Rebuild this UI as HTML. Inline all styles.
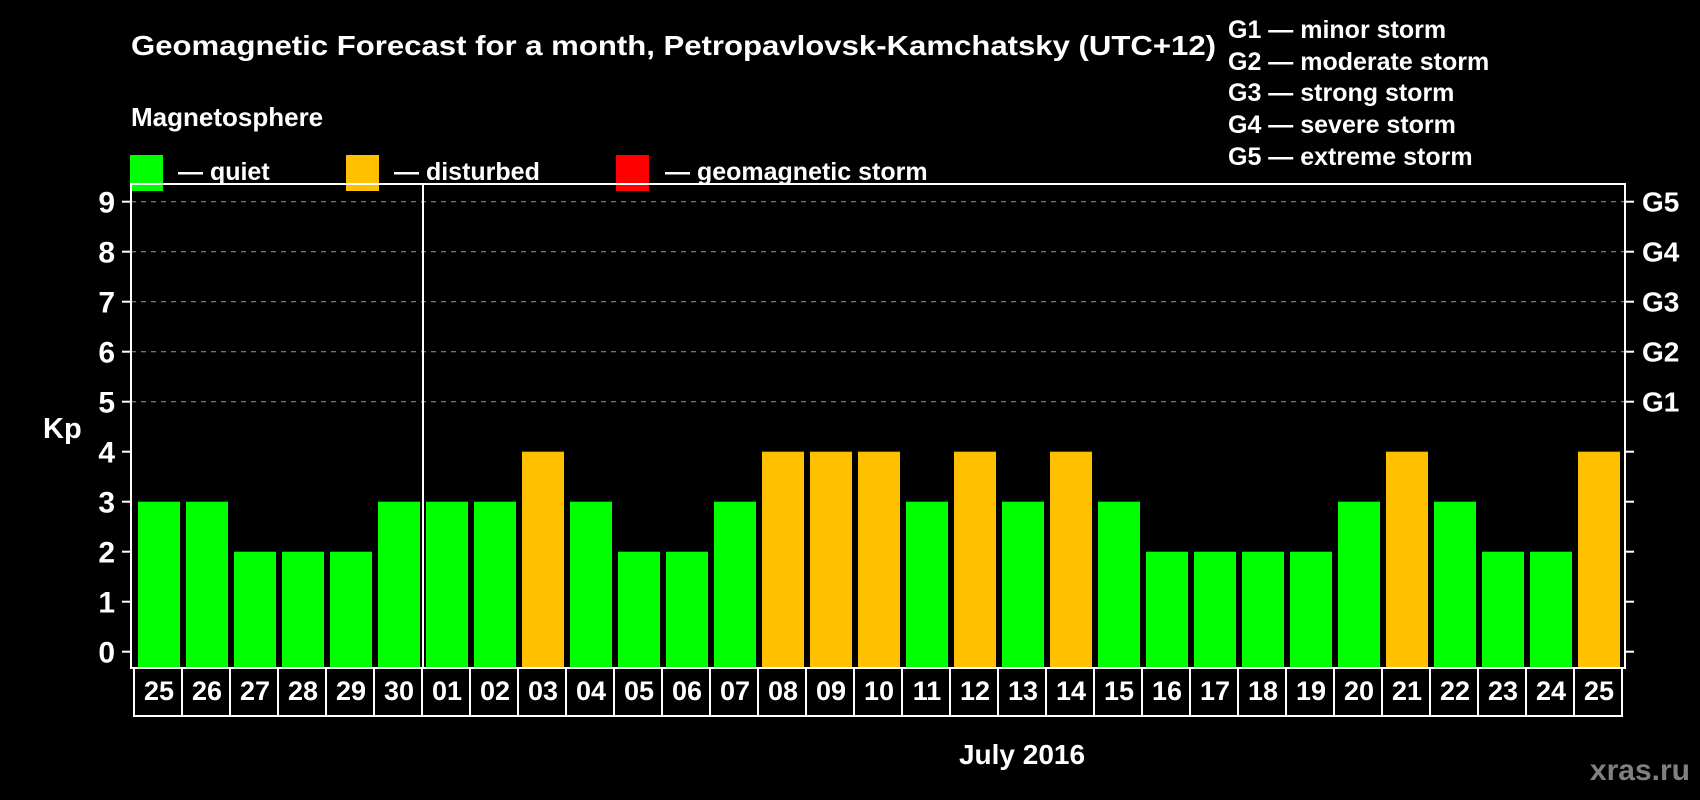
<!DOCTYPE html>
<html><head><meta charset="utf-8"><style>
html,body{margin:0;padding:0;background:#000;}
svg{display:block;font-family:"Liberation Sans",Arial,sans-serif;font-weight:bold;}
</style></head><body>
<svg id="chart" width="1700" height="800" viewBox="0 0 1700 800" xmlns="http://www.w3.org/2000/svg">
<rect width="1700" height="800" fill="#000"/>
<text x="131" y="55" fill="#fff" font-size="28" textLength="1085" lengthAdjust="spacingAndGlyphs">Geomagnetic Forecast for a month, Petropavlovsk-Kamchatsky (UTC+12)</text>
<text x="131" y="126" fill="#fff" font-size="26">Magnetosphere</text>
<g>
<rect x="130" y="155" width="33" height="36" fill="#00ff00"/>
<text x="178" y="180" fill="#fff" font-size="25">— quiet</text></g>
<g>
<rect x="346" y="155" width="33" height="36" fill="#ffc000"/>
<text x="394" y="180" fill="#fff" font-size="25">— disturbed</text></g>
<g>
<rect x="616" y="155" width="33" height="36" fill="#ff0000"/>
<text x="665" y="180" fill="#fff" font-size="25">— geomagnetic storm</text></g>
<g fill="#fff" font-size="25">
<text x="1228" y="38">G1 — minor storm</text>
<text x="1228" y="70">G2 — moderate storm</text>
<text x="1228" y="101">G3 — strong storm</text>
<text x="1228" y="133">G4 — severe storm</text>
<text x="1228" y="165">G5 — extreme storm</text>
</g>
<text x="43" y="438" fill="#fff" font-size="29">Kp</text>
<text x="1022" y="764" fill="#fff" font-size="28" text-anchor="middle">July 2016</text>
<text x="1690" y="780" fill="#808080" font-size="30" text-anchor="end">xras.ru</text>
<g id="plot"></g>
</svg>
<script>
const days = ["25","26","27","28","29","30","01","02","03","04","05","06","07","08","09","10","11","12","13","14","15","16","17","18","19","20","21","22","23","24","25"];
const kp = [3,3,2,2,2,3,3,3,4,3,2,2,3,4,4,4,3,4,3,4,3,2,2,2,2,3,4,3,2,2,4];
const yTicks = [0,1,2,3,4,5,6,7,8,9];
const gLabels = ["G1","G2","G3","G4","G5"];
const gLevels = [5,6,7,8,9];

const NS="http://www.w3.org/2000/svg";
const plot=document.getElementById('plot');
const L=131,R=1625,T=184,B=668;
const y0=651.7, unit=50;
function yScale(v){return y0 - v*unit;}
const pitch=48, bw=42, x0=138;
function xScale(i){return x0 + i*pitch;}
function mk(tag,attrs){const e=document.createElementNS(NS,tag);for(const k in attrs)e.setAttribute(k,attrs[k]);plot.appendChild(e);return e;}

// grid
yTicks.forEach(v=>{
  if(v>=5){const g=mk('line',{x1:L,x2:R,y1:yScale(v),y2:yScale(v),stroke:'#999','stroke-dasharray':'5,5','stroke-width':1});
  
  }
  const t=mk('line',{x1:L-9,x2:L,y1:yScale(v),y2:yScale(v),stroke:'#fff','stroke-width':2});
  
  
  const t2=mk('line',{x1:R,x2:R+9,y1:yScale(v),y2:yScale(v),stroke:'#fff','stroke-width':2});
  
  
  const lb=mk('text',{x:115,y:yScale(v)+11,fill:'#fff','font-size':30,'text-anchor':'end'});
  lb.textContent=v;
  
  
});
gLabels.forEach((g,i)=>{
  const lb=mk('text',{x:1642,y:yScale(gLevels[i])+10,fill:'#fff','font-size':28});
  lb.textContent=g;
  
  
});
// bars
kp.forEach((v,i)=>{
  const b=mk('rect',{x:xScale(i),y:yScale(v),width:bw,height:B-yScale(v),fill:v>=5?'#ff0000':(v>=4?'#ffc000':'#00ff00')});
  
  
  const bx=mk('rect',{x:xScale(i)-4,y:B,width:pitch,height:48,fill:'none',stroke:'#fff','stroke-width':2});
  
  
  const t=mk('text',{x:xScale(i)+bw/2,y:700,fill:'#fff','font-size':27,'text-anchor':'middle'});
  t.textContent=days[i];
  
  
});
// frame
const fr=mk('rect',{x:L,y:T,width:R-L,height:B-T,fill:'none',stroke:'#fff','stroke-width':2});


const dv=mk('line',{x1:xScale(6)-3,x2:xScale(6)-3,y1:T,y2:B,stroke:'#fff','stroke-width':2});


</script>
</body></html>
